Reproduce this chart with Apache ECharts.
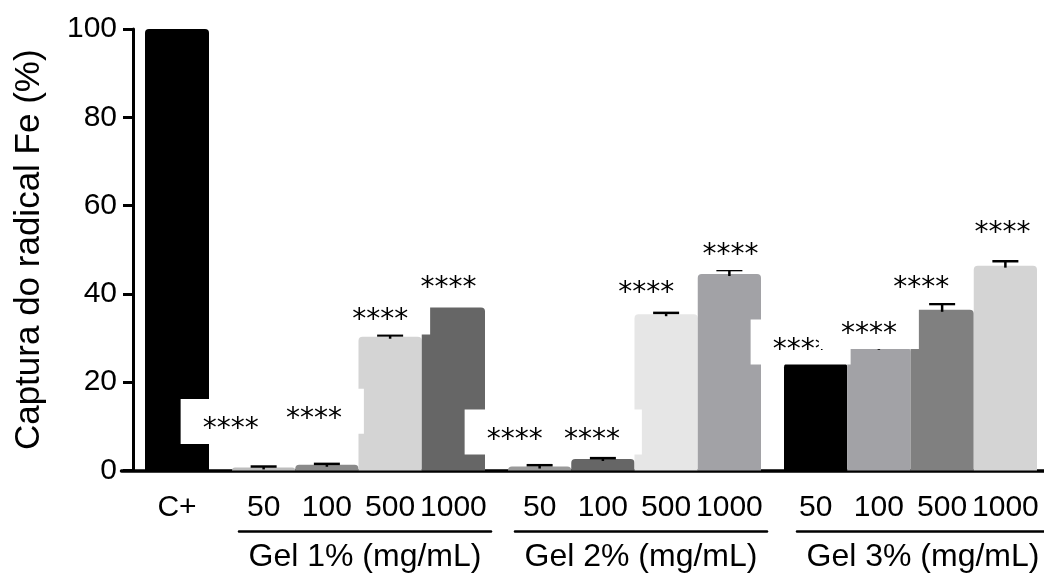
<!DOCTYPE html>
<html><head><meta charset="utf-8">
<script src="https://cdn.jsdelivr.net/npm/echarts@6/dist/echarts.min.js"></script>
<style>html,body{margin:0;padding:0;background:#fff}#c{width:1044px;height:579px}</style>
</head><body><div id="c"></div>
<script>
// ---------------- data ----------------
const controlCategory = ['C+'];
const controlValue = [100];
const concentrations = ['50', '100', '500', '1000'];
const groupNames = ['Gel 1% (mg/mL)', 'Gel 2% (mg/mL)', 'Gel 3% (mg/mL)'];
const gel1Values = [0.7, 1.3, 30.3, 36.9];
const gel1Errors = [0.2, 0.2, 0.3, 0];
const gel2Values = [0.9, 2.6, 35.4, 44.5];
const gel2Errors = [0.3, 0.2, 0.3, 0.9];
const gel3Values = [24.3, 27.8, 36.4, 46.4];
const gel3Errors = [0, 0.2, 1.3, 1.0];
const gel1Sig = ['****', '****', '****', '****'];
const gel2Sig = ['****', '****', '****', '****'];
const gel3Sig = ['****', '****', '****', '****'];
const gel1SigHeight = [11.0, 13.3, 35.8, 42.9];
const gel2SigHeight = [8.6, 8.6, 41.8, 50.4];
const gel3SigHeight = [29.0, 32.5, 42.9, 55.4];
const yTickLabels = ['0', '20', '40', '60', '80', '100'];
const yTitle = 'Captura do radical Fe (%)';

// ---------------- styles / layout ----------------
const FONT = "'Liberation Sans', Arial, sans-serif";
const controlColors = ['#000000'];
const gel1Colors = ['#bdbdbd', '#8a8a8a', '#d4d4d4', '#666666'];
const gel2Colors = ['#9a9a9a', '#666666', '#e6e6e6', '#a2a2a6'];
const gel3Colors = ['#000000', '#a2a2a6', '#808080', '#d4d4d4'];
const PLOT = { top: 29, bottom: 108.5 };
const BAR_GRIDS = [{ left: 145, width: 64 }, { left: 232, width: 253 }, { left: 508, width: 253 }, { left: 784, width: 253 }];
const BRACKETS = [{ left: 239, width: 252 }, { left: 515, width: 252 }, { left: 797, width: 252 }];
const SIG_SHIFT = [[-33, -13, -10, -5], [-25, -11, -20, 1], [-15, -10, -21, -3]];

const grids = [], xAxes = [], yAxes = [], series = [];
function addGrid(g) {
  grids.push(Object.assign({ top: PLOT.top, bottom: PLOT.bottom, containLabel: false, outerBoundsMode: 'none' }, g));
  return grids.length - 1;
}
function hiddenY(gi) {
  yAxes.push({ gridIndex: gi, type: 'value', min: 0, max: 100, show: false });
}

// main grid with y axis
let gi = addGrid({ left: 133, right: 0 });
xAxes.push({ gridIndex: gi, type: 'category', data: [''], show: false });
yAxes.push({
  gridIndex: gi, type: 'value', min: 0, max: 100, interval: 20,
  axisLine: { show: true, lineStyle: { color: '#000', width: 3 } },
  axisTick: { show: true, length: 10, lineStyle: { color: '#000', width: 3 } },
  axisLabel: { fontSize: 30, color: '#000', fontFamily: FONT, margin: 16,
    formatter: (v) => yTickLabels[Math.round(v / 20)] },
  splitLine: { show: false },
  name: yTitle, nameLocation: 'middle', nameGap: 86, nameMoveOverlap: false,
  nameTextStyle: { fontSize: 35, color: '#000', fontFamily: FONT }
});

// baseline x axis line
gi = addGrid({ left: 121.5, right: 0 });
xAxes.push({ gridIndex: gi, type: 'category', data: [''],
  axisLine: { show: true, lineStyle: { color: '#000', width: 3.5 } },
  axisTick: { show: false }, axisLabel: { show: false } });
hiddenY(gi);

const groups = [
  { cats: controlCategory, vals: controlValue, errs: [0], colors: controlColors },
  { cats: concentrations, vals: gel1Values, errs: gel1Errors, colors: gel1Colors, sig: gel1Sig, sigH: gel1SigHeight },
  { cats: concentrations, vals: gel2Values, errs: gel2Errors, colors: gel2Colors, sig: gel2Sig, sigH: gel2SigHeight },
  { cats: concentrations, vals: gel3Values, errs: gel3Errors, colors: gel3Colors, sig: gel3Sig, sigH: gel3SigHeight }
];

groups.forEach((g, k) => {
  const gIdx = addGrid(BAR_GRIDS[k]);
  const ax = xAxes.length;
  xAxes.push({ gridIndex: gIdx, type: 'category', data: g.cats,
    axisLine: { show: false }, axisTick: { show: false },
    axisLabel: { fontSize: 30, color: '#000', fontFamily: FONT, margin: 22, interval: 0 } });
  const ay = yAxes.length;
  hiddenY(gIdx);
  series.push({
    type: 'bar', xAxisIndex: ax, yAxisIndex: ay, barCategoryGap: '0%', barGap: '0%', z: 2,
    silent: true, animation: false,
    itemStyle: { borderRadius: [4, 4, 0, 0], opacity: 1 },
    data: g.vals.map((v, i) => ({ value: v, itemStyle: { color: g.colors[i] } }))
  });
  series.push({
    type: 'custom', xAxisIndex: ax, yAxisIndex: ay, z: 3, silent: true, animation: false,
    encode: { x: 0, y: 1 },
    data: g.vals.map((v, i) => [i, v, g.errs[i]]),
    renderItem: (params, api) => {
      const e = api.value(2);
      if (!e) return null;
      const v = api.value(1);
      const p0 = api.coord([api.value(0), v]);
      const p1 = api.coord([api.value(0), v + e]);
      const hw = 13;
      return { type: 'group', children: [
        { type: 'line', shape: { x1: p0[0], y1: p0[1] + 2, x2: p1[0], y2: p1[1] }, style: { stroke: '#000', lineWidth: 2.5 } },
        { type: 'line', shape: { x1: p1[0] - hw, y1: p1[1], x2: p1[0] + hw, y2: p1[1] }, style: { stroke: '#000', lineWidth: 2.5 } }
      ] };
    }
  });
  if (g.sig) {
    series.push({
      type: 'scatter', xAxisIndex: ax, yAxisIndex: ay, z: 20, silent: true, animation: false,
      symbolSize: 0.1, itemStyle: { color: 'rgba(0,0,0,0)', opacity: 1 },
      data: g.sigH.map((h, i) => ({ value: [i, h], label: { offset: [SIG_SHIFT[k - 1][i], -23] } })),
      label: {
        show: true, position: 'inside', verticalAlign: 'top', align: 'center',
        formatter: (p) => g.sig[p.dataIndex], opacity: 1,
        fontFamily: "'DejaVu Sans', sans-serif", fontSize: 28, lineHeight: 28, color: '#000',
        backgroundColor: '#ffffff', padding: [17, 22, 0, 22]
      }
    });
  }
});

// group brackets with names
groupNames.forEach((name, j) => {
  const bIdx = addGrid(BRACKETS[j]);
  xAxes.push({ gridIndex: bIdx, type: 'category', data: [name], offset: 61,
    axisLine: { show: true, onZero: false, lineStyle: { color: '#000', width: 2.5 } },
    axisTick: { show: false },
    axisLabel: { fontSize: 32, color: '#000', fontFamily: FONT, margin: 10, interval: 0 } });
  hiddenY(bIdx);
});

const chart = echarts.init(document.getElementById('c'), null, { renderer: 'canvas' });
chart.setOption({ animation: false, backgroundColor: '#fff', grid: grids, xAxis: xAxes, yAxis: yAxes, series: series });
</script></body></html>
